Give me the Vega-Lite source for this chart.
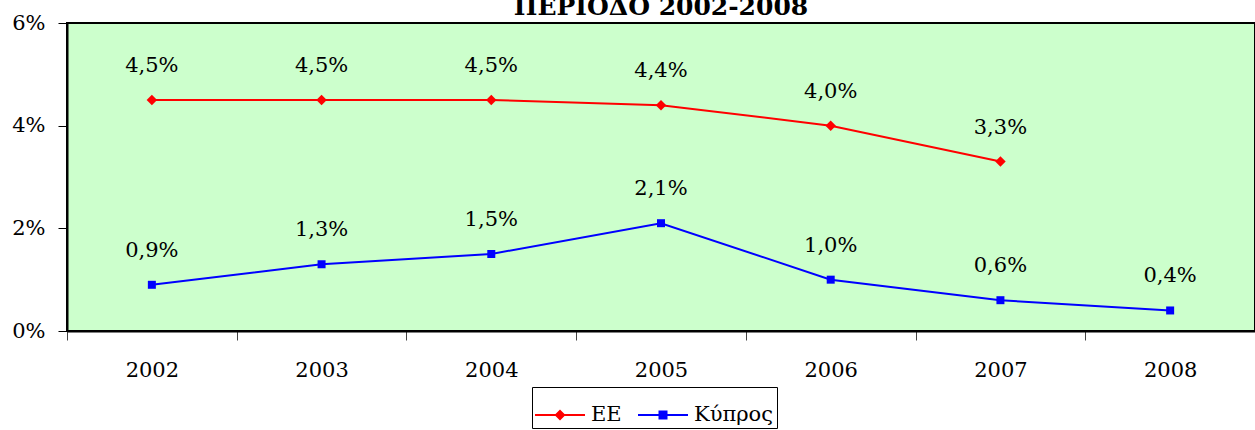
{
  "$schema": "https://vega.github.io/schema/vega-lite/v6.json",
  "width": 1188,
  "height": 308,
  "autosize": {"type": "none"},
  "padding": {"left": 67, "top": 23, "right": 0, "bottom": 99},
  "background": "white",
  "title": {
    "text": "ΠΕΡΙΟΔΟ 2002-2008",
    "font": "DejaVu Serif",
    "fontSize": 25,
    "fontWeight": "bold",
    "color": "black",
    "anchor": "middle",
    "frame": "group",
    "baseline": "alphabetic",
    "offset": 0,
    "dy": 28
  },
  "data": {
    "values": [
      {"year": "2002", "series": "ΕΕ", "value": 0.045},
      {"year": "2003", "series": "ΕΕ", "value": 0.045},
      {"year": "2004", "series": "ΕΕ", "value": 0.045},
      {"year": "2005", "series": "ΕΕ", "value": 0.044},
      {"year": "2006", "series": "ΕΕ", "value": 0.040},
      {"year": "2007", "series": "ΕΕ", "value": 0.033},
      {"year": "2002", "series": "Κύπρος", "value": 0.009},
      {"year": "2003", "series": "Κύπρος", "value": 0.013},
      {"year": "2004", "series": "Κύπρος", "value": 0.015},
      {"year": "2005", "series": "Κύπρος", "value": 0.021},
      {"year": "2006", "series": "Κύπρος", "value": 0.010},
      {"year": "2007", "series": "Κύπρος", "value": 0.006},
      {"year": "2008", "series": "Κύπρος", "value": 0.004}
    ]
  },
  "encoding": {
    "x": {
      "field": "year",
      "type": "ordinal",
      "scale": {"type": "band", "paddingInner": 0, "paddingOuter": 0, "domain": ["2002","2003","2004","2005","2006","2007","2008"]},
      "axis": {
        "title": null,
        "labelAngle": 0,
        "tickBand": "extent",
        "tickSize": 9,
        "tickColor": "#444444",
        "tickWidth": 1,
        "domainColor": "black",
        "domainWidth": 2,
        "labelFont": "DejaVu Serif",
        "labelFontSize": 21,
        "labelColor": "black",
        "labelPadding": 19,
        "grid": false
      }
    },
    "y": {
      "field": "value",
      "type": "quantitative",
      "scale": {"domain": [0, 0.06], "nice": false},
      "axis": {
        "title": null,
        "values": [0, 0.02, 0.04, 0.06],
        "format": ".0%",
        "tickSize": 9,
        "tickColor": "black",
        "domainColor": "black",
        "domainWidth": 2,
        "labelFont": "DejaVu Serif",
        "labelFontSize": 21,
        "labelColor": "black",
        "labelPadding": 13,
        "grid": false
      }
    }
  },
  "layer": [
    {
      "mark": {"type": "line", "strokeWidth": 2},
      "encoding": {
        "color": {
          "field": "series",
          "type": "nominal",
          "scale": {"domain": ["ΕΕ", "Κύπρος"], "range": ["#ff0000", "#0000ff"]},
          "legend": {
            "title": null,
            "orient": "none",
            "legendX": 465,
            "legendY": 364,
            "direction": "horizontal",
            "strokeColor": "black",
            "padding": 3,
            "columnPadding": 16,
            "labelFont": "DejaVu Serif",
            "labelFontSize": 21,
            "labelColor": "black",
            "labelOffset": 6,
            "symbolSize": 2500,
            "symbolStrokeWidth": 0,
            "encode": {
              "symbols": {
                "update": {
                  "shape": {"signal": "datum.value === 'ΕΕ' ? 'M-1,-0.04H1V0.04H-1ZM-0.22,0L0,-0.22L0.22,0L0,0.22Z' : 'M-1,-0.04H1V0.04H-1ZM-0.18,-0.18H0.18V0.18H-0.18Z'"},
                  "fill": {"scale": "color", "field": "value"},
                  "fillOpacity": {"value": 1},
                  "strokeWidth": {"value": 0},
                  "opacity": {"value": 1}
                }
              }
            }
          }
        }
      }
    },
    {
      "transform": [{"filter": "datum.series === 'ΕΕ'"}],
      "mark": {"type": "point", "filled": true, "opacity": 1, "shape": "diamond", "size": 110, "color": "#ff0000"}
    },
    {
      "transform": [{"filter": "datum.series === 'Κύπρος'"}],
      "mark": {"type": "point", "filled": true, "opacity": 1, "shape": "square", "size": 64, "color": "#0000ff"}
    },
    {
      "mark": {"type": "text", "font": "DejaVu Serif", "fontSize": 21, "color": "black", "baseline": "alphabetic", "dy": -28},
      "encoding": {
        "text": {"field": "value", "type": "quantitative", "format": ".1%"}
      }
    }
  ],
  "config": {
    "locale": {"number": {"decimal": ",", "thousands": ".", "grouping": [3], "currency": ["", " €"]}},
    "view": {"fill": "#ccffcc", "stroke": "black", "strokeWidth": 2}
  }
}
